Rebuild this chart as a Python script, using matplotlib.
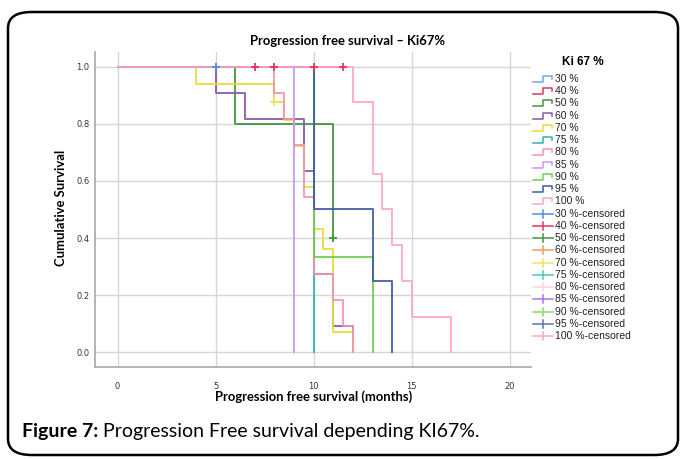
import matplotlib
matplotlib.use("Agg")
import matplotlib.pyplot as plt
from matplotlib.patches import FancyBboxPatch

# ------------------------------------------------------------
# Dados: tempos de evento e sobrevida acumulada
# ------------------------------------------------------------
groups = ["30 %", "40 %", "50 %", "60 %", "70 %", "75 %",
          "80 %", "85 %", "90 %", "95 %", "100 %"]

t_30 = [0, 5];                    s_30 = [1.0, 1.0]
t_40 = [0, 11.5];                 s_40 = [1.0, 1.0]
t_50 = [0, 6, 11];                s_50 = [1.0, 0.8, 0.4]
t_60 = [0, 5, 6.5, 9.5, 10, 11, 12]
s_60 = [1.0, 0.909, 0.818, 0.636, 0.273, 0.091, 0.0]
t_70 = [0, 4, 8, 8.5, 9, 9.5, 10, 10.5, 11, 12]
s_70 = [1.0, 0.9375, 0.875, 0.8125, 0.722, 0.578, 0.433, 0.361, 0.072, 0.0]
t_75 = [0, 10];                   s_75 = [1.0, 0.0]
t_80 = [0, 8, 8.5, 9, 9.5, 10, 11, 11.5, 12]
s_80 = [1.0, 0.909, 0.818, 0.727, 0.545, 0.273, 0.182, 0.091, 0.0]
t_85 = [0, 9];                    s_85 = [1.0, 0.0]
t_90 = [0, 10, 13];               s_90 = [1.0, 0.333, 0.0]
t_95 = [0, 10, 13, 14];           s_95 = [1.0, 0.5, 0.25, 0.0]
t_100 = [0, 12, 13, 13.5, 14, 14.5, 15, 17]
s_100 = [1.0, 0.875, 0.625, 0.5, 0.375, 0.25, 0.125, 0.0]

# censuras: (grupo, tempo, sobrevida)
cens_group = ["30 %", "40 %", "40 %", "40 %", "40 %", "50 %", "70 %"]
cens_time = [5, 7, 8, 10, 11.5, 11, 8]
cens_surv = [1.0, 1.0, 1.0, 1.0, 1.0, 0.4, 0.875]

x_ticks = [0, 5, 10, 15, 20]
y_ticks = [0.0, 0.2, 0.4, 0.6, 0.8, 1.0]

times = [t_30, t_40, t_50, t_60, t_70, t_75, t_80, t_85, t_90, t_95, t_100]
survs = [s_30, s_40, s_50, s_60, s_70, s_75, s_80, s_85, s_90, s_95, s_100]

line_colors = ["#6fa6e0", "#e0385c", "#3e963e", "#8a55a8", "#e6dc38", "#2bb8aa",
               "#f592ad", "#c896f7", "#6ccf4c", "#3d5aaa", "#ffa6c6"]
cens_colors = ["#4a8fe0", "#e0385c", "#3e963e", "#f29a62", "#eee36a", "#4cc8b8",
               "#ffd3df", "#b070f5", "#8ad86a", "#5a72b8", "#ffa6c6"]

# ------------------------------------------------------------
# Figura
# ------------------------------------------------------------
W, H = 682, 459
fig = plt.figure(figsize=(W / 100, H / 100), dpi=100)
fig.patch.set_facecolor("white")

def px(x, y):
    return x / W, 1 - y / H

# moldura arredondada
frame = FancyBboxPatch(px(8, 455), 670 / W, 443 / H,
                       boxstyle="round,pad=0,rounding_size=0.035",
                       transform=fig.transFigure, fill=False,
                       edgecolor="black", linewidth=1.8, clip_on=False)
fig.patches.append(frame)

ax = fig.add_axes([95 / W, 1 - 367 / H, (531 - 95) / W, (367 - 52) / H])

for i, g in enumerate(groups):
    ax.step(times[i], survs[i], where="post", color=line_colors[i],
            linewidth=1.4, alpha=0.9, zorder=3)

for g, t, s in zip(cens_group, cens_time, cens_surv):
    c = cens_colors[groups.index(g)]
    ax.plot(t, s, marker="+", color=c, markersize=6, markeredgewidth=1.3,
            linestyle="none", zorder=4)

ax.set_xlim(-1.15, 21.08)
ax.set_ylim(-0.051, 1.051)
ax.set_xticks(x_ticks)
ax.set_yticks(y_ticks)
ax.set_yticklabels([f"{v:.1f}" for v in y_ticks])
ax.grid(True, color="#d6d6d6", linewidth=1.0, zorder=0)
ax.set_axisbelow(True)
for side in ["top", "right"]:
    ax.spines[side].set_visible(False)
for side in ["left", "bottom"]:
    ax.spines[side].set_color("#a8a8a8")
    ax.spines[side].set_linewidth(1.2)
ax.tick_params(axis="both", length=0, labelsize=6, labelcolor="#333333")
ax.tick_params(axis="x", pad=11)
ax.tick_params(axis="y", pad=4)

label_font = ["Lato", "DejaVu Sans"]
fig.text(*px(348, 41), "Progression free survival – Ki67%", ha="center", va="center",
         fontsize=9.4, fontweight="bold", family=label_font)
fig.text(*px(61, 208), "Cumulative Survival", ha="center", va="center", rotation=90,
         fontsize=9.4, fontweight="bold", family=label_font)
fig.text(*px(314, 397), "Progression free survival (months)", ha="center", va="center",
         fontsize=9.4, fontweight="bold", family=label_font)

# ------------------------------------------------------------
# Legenda (desenhada à mão no estilo SPSS)
# ------------------------------------------------------------
lax = fig.add_axes([0, 0, 1, 1])
lax.set_xlim(0, W)
lax.set_ylim(H, 0)
lax.axis("off")

leg_font = ["Liberation Sans", "DejaVu Sans"]
lax.text(583, 62, "Ki 67 %", ha="center", va="center", fontsize=8.5,
         fontweight="bold", family=leg_font)
row0, dy = 79, 12.24
for i, g in enumerate(groups):
    y = row0 + i * dy
    lax.plot([533, 543, 543, 552, 552], [y + 3, y + 3, y - 3, y - 3, y],
             color=line_colors[i], linewidth=1.1)
    lax.text(555, y, g, va="center", ha="left", fontsize=7.5, color="#222222",
             family=leg_font)
for i, g in enumerate(groups):
    y = row0 + (len(groups) + i) * dy
    lax.plot([533, 553], [y, y], color=cens_colors[i], linewidth=1.1)
    lax.plot([543, 543], [y - 4, y + 4], color=cens_colors[i], linewidth=1.1)
    lax.text(555, y, g + "-censored", va="center", ha="left", fontsize=7.5,
             color="#222222", family=leg_font)

# legenda da figura
cap_font = ["Lato", "DejaVu Sans"]
cap = fig.text(*px(22, 432), "Figure 7:", ha="left", va="center", fontsize=14,
               fontweight="bold", family=cap_font)
fig.canvas.draw()
bb = cap.get_window_extent()
fig.text((bb.x1 + 5) / W, 1 - 432 / H, "Progression Free survival depending KI67%.",
         ha="left", va="center", fontsize=14, family=cap_font)

fig.savefig("out.png", dpi=100)
